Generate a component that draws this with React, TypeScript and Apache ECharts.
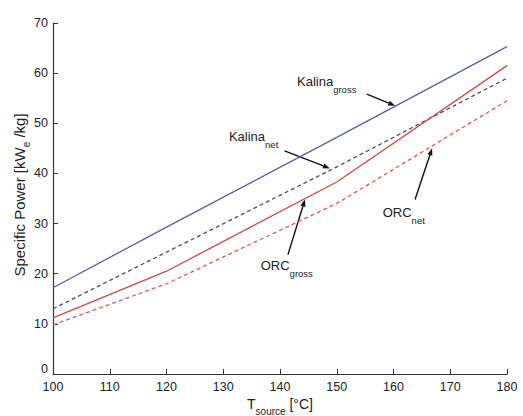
import React, { useEffect, useRef } from "react";
import * as echarts from "echarts";

// ---- data ----
const temps = [100, 120, 150, 180];
const kalinaGross = [17.2, 29.3, 47.2, 65.3];
const kalinaNet = [13.0, 24.3, 41.3, 59.0];
const orcGross = [11.2, 20.5, 38.3, 61.5];
const orcNet = [9.8, 18.0, 34.0, 54.5];

const xTicks = [100, 110, 120, 130, 140, 150, 160, 170, 180];
const yTicks = [0, 10, 20, 30, 40, 50, 60, 70];

// annotation labels (main text, subscript) with anchor points in data coordinates
const annMain = ["Kalina", "Kalina", "ORC", "ORC"];
const annSub = ["gross", "net", "gross", "net"];
const annAt = [[143, 58.4], [131, 47.4], [136.6, 21.6], [158.1, 32.2]];
const annTail = [[155.3, 55.8], [140.8, 44.5], [141.4, 23.8], [163.8, 34.8]];
const annHead = [[160.3, 53.5], [148.8, 41.0], [144.4, 34.8], [166.8, 45.0]];

const FONT = '"Liberation Sans", Arial, Helvetica, sans-serif';
const TEXT = "#222";

function measure(text: string, size: number): number {
  const ctx = document.createElement("canvas").getContext("2d");
  if (!ctx) return text.length * size * 0.55;
  ctx.font = `${size}px ${FONT}`;
  return ctx.measureText(text).width;
}

type Part = { text: string; size: number; dy: number };

function run(parts: Part[]) {
  let x = 0;
  const children: any[] = [];
  for (const p of parts) {
    children.push({
      type: "text",
      x,
      y: p.dy,
      silent: true,
      style: {
        text: p.text,
        fontSize: p.size,
        fontFamily: FONT,
        fill: TEXT,
        align: "left",
        verticalAlign: "middle",
      },
    });
    x += measure(p.text, p.size);
  }
  return { children, width: x };
}

function arrow(t: number[], h: number[]) {
  const dx = h[0] - t[0];
  const dy = h[1] - t[1];
  const len = Math.sqrt(dx * dx + dy * dy) || 1;
  const ux = dx / len;
  const uy = dy / len;
  const hl = 7;
  const hw = 2.6;
  const bx = h[0] - ux * hl;
  const by = h[1] - uy * hl;
  const nx = -uy;
  const ny = ux;
  return [
    {
      type: "line",
      silent: true,
      shape: { x1: t[0], y1: t[1], x2: bx, y2: by },
      style: { stroke: "#111", lineWidth: 1.4 },
    },
    {
      type: "polygon",
      silent: true,
      shape: {
        points: [
          [h[0], h[1]],
          [bx + nx * hw, by + ny * hw],
          [bx - nx * hw, by - ny * hw],
        ],
      },
      style: { fill: "#111" },
    },
  ];
}

const pairs = (ys: number[]) => temps.map((t, i) => [t, ys[i]]);

export default function App() {
  const ref = useRef<HTMLDivElement>(null);

  useEffect(() => {
    if (!ref.current) return;
    const chart = echarts.init(ref.current, null, { renderer: "svg" });
    const gridLeft = 53;
    const gridRight = 16;
    const gridTop = 23;
    const gridBottom = 42;

    const lineSeries = (name: string, ys: number[], color: string, dashed: boolean) => ({
      name,
      type: "line",
      data: pairs(ys),
      symbol: "none",
      silent: true,
      lineStyle: { color, width: 1.3, type: dashed ? [4, 3] : "solid" },
    });

    chart.setOption({
      animation: false,
      backgroundColor: "#fff",
      textStyle: { fontFamily: FONT },
      grid: { left: gridLeft, right: gridRight, top: gridTop, bottom: gridBottom },
      xAxis: {
        type: "value",
        min: xTicks[0],
        max: xTicks[xTicks.length - 1],
        interval: 10,
        axisLine: { lineStyle: { color: "#333", width: 1.2 } },
        axisTick: { inside: true, length: 5, lineStyle: { color: "#333" } },
        axisLabel: { color: TEXT, fontSize: 12.5, fontFamily: FONT, margin: 6 },
        splitLine: { show: false },
      },
      yAxis: {
        type: "value",
        min: yTicks[0],
        max: yTicks[yTicks.length - 1],
        interval: 10,
        axisLine: { show: true, lineStyle: { color: "#333", width: 1.2 } },
        axisTick: { show: true, inside: true, length: 5, lineStyle: { color: "#333" } },
        axisLabel: {
          color: TEXT,
          fontSize: 12.5,
          fontFamily: FONT,
          margin: 5,
          formatter: (v: number) => (v === 0 ? "{z|0}" : String(v)),
          rich: { z: { fontSize: 12.5, fontFamily: FONT, color: TEXT, padding: [0, 0, 10, 0] } },
        },
        splitLine: { show: false },
      },
      series: [
        lineSeries("Kalina gross", kalinaGross, "#5a5ea8", false),
        lineSeries("Kalina net", kalinaNet, "#4a4d5c", true),
        lineSeries("ORC gross", orcGross, "#d9434b", false),
        lineSeries("ORC net", orcNet, "#e05a5a", true),
      ],
    });

    const toPx = (p: number[]) => chart.convertToPixel({ gridIndex: 0 }, p) as number[];
    const graphics: any[] = [];

    for (let i = 0; i < annMain.length; i++) {
      const at = toPx(annAt[i]);
      const r = run([
        { text: annMain[i], size: 13, dy: 0 },
        { text: annSub[i], size: 9.5, dy: 8 },
      ]);
      graphics.push({ type: "group", x: at[0], y: at[1], children: r.children });
      graphics.push(...arrow(toPx(annTail[i]), toPx(annHead[i])));
    }

    const W = 523;
    const H = 416;
    const plotCx = gridLeft + (W - gridLeft - gridRight) / 2;

    // x-axis title
    const xt = run([
      { text: "T", size: 14, dy: 0 },
      { text: "source", size: 10, dy: 7 },
      { text: " [°C]", size: 14, dy: 0 },
    ]);
    graphics.push({ type: "group", x: plotCx - xt.width / 2, y: H - 12, children: xt.children });

    // y-axis title (rotated)
    const yt = run([
      { text: "Specific Power [kW", size: 15, dy: 0 },
      { text: "e", size: 10, dy: 7 },
      { text: " /kg]", size: 15, dy: 0 },
    ]);
    graphics.push({
      type: "group",
      x: 19,
      y: 195 + yt.width / 2,
      rotation: Math.PI / 2,
      children: yt.children,
    });

    chart.setOption({ graphic: graphics });

    return () => chart.dispose();
  }, []);

  return (
    <div
      ref={ref}
      style={{ position: "fixed", left: 0, top: 0, width: 523, height: 416, background: "#fff" }}
    />
  );
}
